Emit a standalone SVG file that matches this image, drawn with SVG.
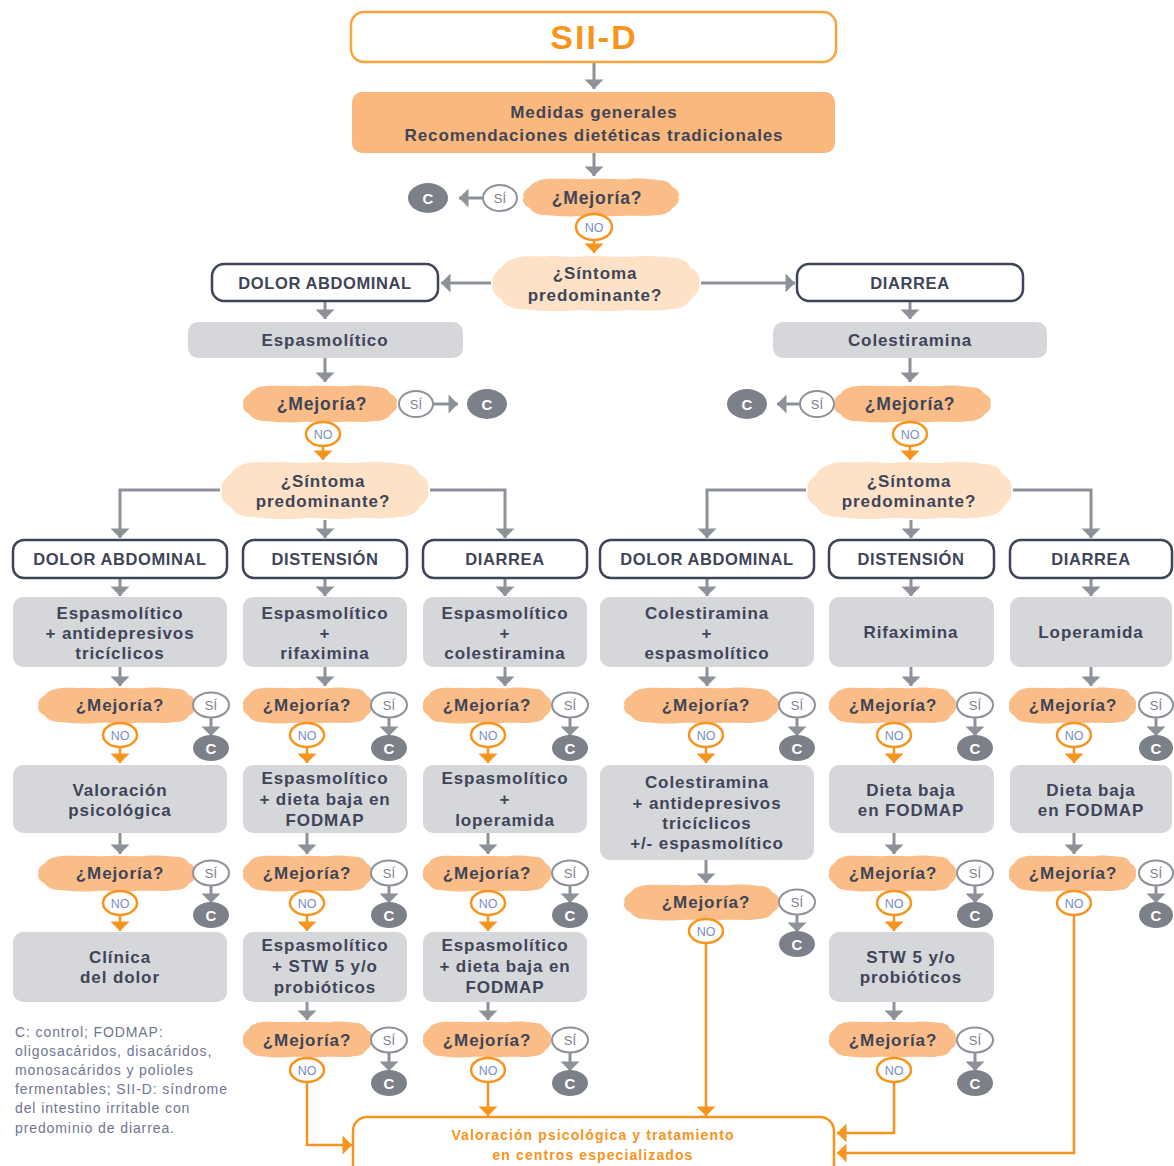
<svg xmlns="http://www.w3.org/2000/svg" xmlns:xlink="http://www.w3.org/1999/xlink" width="1174" height="1166" viewBox="0 0 1174 1166">
<style>
text{font-family:"Liberation Sans",Arial,sans-serif;text-anchor:middle}
.t{font-weight:bold;font-size:17px;letter-spacing:0.9px;fill:#3f4558}
.cat{fill:#fff;stroke:#3f4558;stroke-width:2.5}
.trt{fill:#d5d7db}
.cl1{fill:#fbbd87}
.cl2{fill:#fde2c7}
.si{fill:#fff;stroke:#8d9199;stroke-width:2}
.sit{font-size:13px;fill:#7d8190}
.no{fill:#fff;stroke:#f7941d;stroke-width:2.5}
.not{font-size:12.5px;fill:#7a8ec4}
.c{fill:#7c8089}
.ct{font-weight:bold;font-size:15px;fill:#fff}
.ga{stroke:#8d9199;stroke-width:3;fill:none;marker-end:url(#ag)}
.oa{stroke:#f7941d;stroke-width:2.5;fill:none;marker-end:url(#ao)}
.fn{font-size:14px;letter-spacing:0.9px;fill:#6f7690;text-anchor:start}
.ot{font-weight:bold;font-size:14px;letter-spacing:1.1px;fill:#f7941d}
</style>
<defs>
<marker id="ag" viewBox="0 0 10 20" markerUnits="userSpaceOnUse" markerWidth="10" markerHeight="19" refX="10" refY="10" orient="auto"><path d="M0,0 L10,10 L0,20 Z" fill="#8d9199"/></marker>
<marker id="ao" viewBox="0 0 10 20" markerUnits="userSpaceOnUse" markerWidth="10" markerHeight="19" refX="10" refY="10" orient="auto"><path d="M0,0 L10,10 L0,20 Z" fill="#f7941d"/></marker>
<symbol id="cloud" viewBox="0 0 100 40" preserveAspectRatio="none"><path d="M10,3 C14,0 20,1 26,1 C32,0 38,2 44,1 C52,0 60,2 68,1 C74,0 80,1 86,2 C92,2 94,6 95,9 C99,12 100,17 99,20 C100,24 98,28 95,31 C94,35 90,38 85,38 C78,40 70,38 62,39 C54,40 46,38 38,39 C30,40 22,39 15,38 C9,38 6,34 5,31 C1,28 0,23 1,20 C0,16 2,12 5,9 C6,6 8,4 10,3 Z"/></symbol>
</defs>
<rect width="1174" height="1166" fill="#fff"/>

<g id="connectors">
<path class="ga" d="M594,62 V89"/>
<path class="ga" d="M594,153 V176"/>
<path class="ga" d="M482,198 H459"/>
<path class="ga" d="M491,283 H441"/>
<path class="ga" d="M701,283 H795"/>
<path class="ga" d="M325,302 V319"/>
<path class="ga" d="M910,302 V319"/>
<path class="ga" d="M325,358 V382"/>
<path class="ga" d="M910,358 V382"/>
<path class="ga" d="M433,404 H458"/>
<path class="ga" d="M800,404 H777"/>
<path class="ga" d="M220,490 H120 V538"/>
<path class="ga" d="M325,520 V538"/>
<path class="ga" d="M430,490 H505 V538"/>
<path class="ga" d="M806,490 H707 V538"/>
<path class="ga" d="M911,520 V538"/>
<path class="ga" d="M1013,490 H1091 V538"/>
<path class="ga" d="M120,578 V596"/><path class="ga" d="M325,578 V596"/><path class="ga" d="M505,578 V596"/><path class="ga" d="M707,578 V596"/><path class="ga" d="M911,578 V596"/><path class="ga" d="M1091,578 V596"/>
<path class="ga" d="M120,667 V686"/><path class="ga" d="M325,667 V686"/><path class="ga" d="M505,667 V686"/><path class="ga" d="M707,667 V686"/><path class="ga" d="M911,667 V686"/><path class="ga" d="M1091,667 V686"/>
<path class="ga" d="M211,718 V736"/><path class="ga" d="M389,718 V736"/><path class="ga" d="M570,718 V736"/><path class="ga" d="M797,718 V736"/><path class="ga" d="M975,718 V736"/><path class="ga" d="M1156,718 V736"/>
<path class="ga" d="M120,833 V854"/><path class="ga" d="M307,833 V854"/><path class="ga" d="M488,833 V854"/><path class="ga" d="M706,860 V883"/><path class="ga" d="M894,833 V854"/><path class="ga" d="M1074,833 V854"/>
<path class="ga" d="M211,886 V903"/><path class="ga" d="M389,886 V903"/><path class="ga" d="M570,886 V903"/><path class="ga" d="M797,915 V932"/><path class="ga" d="M975,886 V903"/><path class="ga" d="M1156,886 V903"/>
<path class="ga" d="M307,1002 V1020"/><path class="ga" d="M488,1002 V1020"/><path class="ga" d="M894,1002 V1020"/>
<path class="ga" d="M389,1053 V1071"/><path class="ga" d="M570,1053 V1071"/><path class="ga" d="M975,1053 V1071"/>
<path class="oa" d="M594,240 V253"/>
<path class="oa" d="M323,446 V460"/>
<path class="oa" d="M910,446 V460"/>
<path class="oa" d="M120,747 V763"/><path class="oa" d="M307,747 V763"/><path class="oa" d="M488,747 V763"/><path class="oa" d="M706,747 V763"/><path class="oa" d="M894,747 V763"/><path class="oa" d="M1074,747 V763"/>
<path class="oa" d="M120,915 V931"/><path class="oa" d="M307,915 V931"/><path class="oa" d="M488,915 V931"/><path class="oa" d="M894,915 V931"/>
<path class="oa" d="M1074,914 V1153 H837"/>
<path class="oa" d="M706,943 V1116"/>
<path class="oa" d="M307,1082 V1145 H352"/>
<path class="oa" d="M488,1082 V1116"/>
<path class="oa" d="M894,1082 V1133 H837"/>
</g>

<g id="n-siid"><rect x="351" y="12" width="485" height="50" rx="13" fill="#fff" stroke="#f7a53c" stroke-width="2.5"/><text x="594" y="49" style="font-weight:bold;font-size:34px;letter-spacing:2px;fill:#f7941d">SII-D</text></g>
<g id="n-medidas"><rect x="352" y="92" width="483" height="61" rx="10" fill="#fbb87c"/><text class="t" x="594" y="118">Medidas generales</text><text class="t" x="594" y="141">Recomendaciones dietéticas tradicionales</text></g>
<g id="n-mej0"><use href="#cloud" x="522" y="178" width="158" height="39" class="cl1"/><text class="t" x="597" y="204" style="font-size:17.5px">¿Mejoría?</text></g>
<g id="n-si0"><ellipse class="si" cx="500" cy="198" rx="17" ry="13"/><text class="sit" x="500" y="203">SÍ</text></g>
<g id="n-c0"><ellipse class="c" cx="428" cy="198" rx="20" ry="15"/><text class="ct" x="428" y="203.5">C</text></g>
<g id="n-no0"><ellipse class="no" cx="594" cy="227" rx="18" ry="13"/><text class="not" x="594" y="231.5">NO</text></g>
<g id="n-sint0"><use href="#cloud" x="491" y="255" width="210" height="57" class="cl2"/><text class="t" x="595" y="279">¿Síntoma</text><text class="t" x="595" y="301">predominante?</text></g>
<g id="n-dolor0"><rect class="cat" x="212" y="264" width="226" height="37" rx="12"/><text class="t" x="325" y="289" style="font-size:16.5px;letter-spacing:0.6px">DOLOR ABDOMINAL</text></g>
<g id="n-diarrea0"><rect class="cat" x="797" y="264" width="226" height="37" rx="12"/><text class="t" x="910" y="289" style="font-size:16.5px;letter-spacing:0.6px">DIARREA</text></g>
<g id="n-espas0"><rect class="trt" x="188" y="322" width="275" height="36" rx="10"/><text class="t" x="325" y="346">Espasmolítico</text></g>
<g id="n-coles0"><rect class="trt" x="773" y="322" width="274" height="36" rx="10"/><text class="t" x="910" y="346">Colestiramina</text></g>
<g id="n-mejL"><use href="#cloud" x="242" y="385" width="156" height="38" class="cl1"/><text class="t" x="322" y="410" style="font-size:17.5px">¿Mejoría?</text></g>
<g id="n-siL"><ellipse class="si" cx="416" cy="404" rx="17" ry="13"/><text class="sit" x="416" y="409">SÍ</text></g>
<g id="n-cL"><ellipse class="c" cx="487" cy="404" rx="20" ry="15"/><text class="ct" x="487" y="409.5">C</text></g>
<g id="n-noL"><ellipse class="no" cx="323" cy="434" rx="17" ry="12"/><text class="not" x="323" y="438.5">NO</text></g>
<g id="n-mejR"><use href="#cloud" x="833" y="385" width="159" height="38" class="cl1"/><text class="t" x="910" y="410" style="font-size:17.5px">¿Mejoría?</text></g>
<g id="n-siR"><ellipse class="si" cx="817" cy="404" rx="17" ry="13"/><text class="sit" x="817" y="409">SÍ</text></g>
<g id="n-cR"><ellipse class="c" cx="747" cy="404" rx="20" ry="15"/><text class="ct" x="747" y="409.5">C</text></g>
<g id="n-noR"><ellipse class="no" cx="910" cy="434" rx="17" ry="12"/><text class="not" x="910" y="438.5">NO</text></g>
<g id="n-sintL"><use href="#cloud" x="220" y="461" width="210" height="59" class="cl2"/><text class="t" x="323" y="487">¿Síntoma</text><text class="t" x="323" y="507">predominante?</text></g>
<g id="n-sintR"><use href="#cloud" x="806" y="461" width="207" height="59" class="cl2"/><text class="t" x="909" y="487">¿Síntoma</text><text class="t" x="909" y="507">predominante?</text></g>

<g id="n-cat1"><rect class="cat" x="13" y="540" width="214" height="38" rx="11"/><text class="t" x="120" y="565" style="font-size:16.5px;letter-spacing:0.6px">DOLOR ABDOMINAL</text></g>
<g id="n-cat2"><rect class="cat" x="243" y="540" width="164" height="38" rx="11"/><text class="t" x="325" y="565" style="font-size:16.5px;letter-spacing:0.6px">DISTENSIÓN</text></g>
<g id="n-cat3"><rect class="cat" x="423" y="540" width="164" height="38" rx="11"/><text class="t" x="505" y="565" style="font-size:16.5px;letter-spacing:0.6px">DIARREA</text></g>
<g id="n-cat4"><rect class="cat" x="600" y="540" width="214" height="38" rx="11"/><text class="t" x="707" y="565" style="font-size:16.5px;letter-spacing:0.6px">DOLOR ABDOMINAL</text></g>
<g id="n-cat5"><rect class="cat" x="829" y="540" width="165" height="38" rx="11"/><text class="t" x="911" y="565" style="font-size:16.5px;letter-spacing:0.6px">DISTENSIÓN</text></g>
<g id="n-cat6"><rect class="cat" x="1010" y="540" width="162" height="38" rx="11"/><text class="t" x="1091" y="565" style="font-size:16.5px;letter-spacing:0.6px">DIARREA</text></g>

<g id="n-t1a"><rect class="trt" x="13" y="597" width="214" height="70" rx="10"/><text class="t" x="120" y="619">Espasmolítico</text><text class="t" x="120" y="639">+ antidepresivos</text><text class="t" x="120" y="659">tricíclicos</text></g>
<g id="n-t2a"><rect class="trt" x="243" y="597" width="164" height="70" rx="10"/><text class="t" x="325" y="619">Espasmolítico</text><text class="t" x="325" y="639">+</text><text class="t" x="325" y="659">rifaximina</text></g>
<g id="n-t3a"><rect class="trt" x="423" y="597" width="164" height="70" rx="10"/><text class="t" x="505" y="619">Espasmolítico</text><text class="t" x="505" y="639">+</text><text class="t" x="505" y="659">colestiramina</text></g>
<g id="n-t4a"><rect class="trt" x="600" y="597" width="214" height="70" rx="10"/><text class="t" x="707" y="619">Colestiramina</text><text class="t" x="707" y="639">+</text><text class="t" x="707" y="659">espasmolítico</text></g>
<g id="n-t5a"><rect class="trt" x="829" y="597" width="165" height="70" rx="10"/><text class="t" x="911" y="638">Rifaximina</text></g>
<g id="n-t6a"><rect class="trt" x="1010" y="597" width="162" height="70" rx="10"/><text class="t" x="1091" y="638">Loperamida</text></g>

<g id="n-m1a"><use href="#cloud" x="37" y="687" width="160" height="37" class="cl1"/><text class="t" x="120" y="711">¿Mejoría?</text></g>
<g id="n-m2a"><use href="#cloud" x="242" y="687" width="131" height="37" class="cl1"/><text class="t" x="307" y="711">¿Mejoría?</text></g>
<g id="n-m3a"><use href="#cloud" x="422" y="687" width="130" height="37" class="cl1"/><text class="t" x="487" y="711">¿Mejoría?</text></g>
<g id="n-m4a"><use href="#cloud" x="623" y="687" width="157" height="37" class="cl1"/><text class="t" x="706" y="711">¿Mejoría?</text></g>
<g id="n-m5a"><use href="#cloud" x="828" y="687" width="129" height="37" class="cl1"/><text class="t" x="893" y="711">¿Mejoría?</text></g>
<g id="n-m6a"><use href="#cloud" x="1008" y="687" width="129" height="37" class="cl1"/><text class="t" x="1073" y="711">¿Mejoría?</text></g>

<g id="n-s1a"><ellipse class="si" cx="211" cy="705" rx="18" ry="12.5"/><text class="sit" x="211" y="710">SÍ</text></g>
<g id="n-s2a"><ellipse class="si" cx="389" cy="705" rx="18" ry="12.5"/><text class="sit" x="389" y="710">SÍ</text></g>
<g id="n-s3a"><ellipse class="si" cx="570" cy="705" rx="18" ry="12.5"/><text class="sit" x="570" y="710">SÍ</text></g>
<g id="n-s4a"><ellipse class="si" cx="797" cy="705" rx="18" ry="12.5"/><text class="sit" x="797" y="710">SÍ</text></g>
<g id="n-s5a"><ellipse class="si" cx="975" cy="705" rx="18" ry="12.5"/><text class="sit" x="975" y="710">SÍ</text></g>
<g id="n-s6a"><ellipse class="si" cx="1156" cy="705" rx="17" ry="12.5"/><text class="sit" x="1156" y="710">SÍ</text></g>

<g id="n-c1a"><ellipse class="c" cx="211" cy="748" rx="18" ry="13"/><text class="ct" x="211" y="753.5">C</text></g>
<g id="n-c2a"><ellipse class="c" cx="389" cy="748" rx="18" ry="13"/><text class="ct" x="389" y="753.5">C</text></g>
<g id="n-c3a"><ellipse class="c" cx="570" cy="748" rx="18" ry="13"/><text class="ct" x="570" y="753.5">C</text></g>
<g id="n-c4a"><ellipse class="c" cx="797" cy="748" rx="18" ry="13"/><text class="ct" x="797" y="753.5">C</text></g>
<g id="n-c5a"><ellipse class="c" cx="975" cy="748" rx="18" ry="13"/><text class="ct" x="975" y="753.5">C</text></g>
<g id="n-c6a"><ellipse class="c" cx="1156" cy="748" rx="17" ry="13"/><text class="ct" x="1156" y="753.5">C</text></g>

<g id="n-n1a"><ellipse class="no" cx="120" cy="735" rx="17" ry="12"/><text class="not" x="120" y="739.5">NO</text></g>
<g id="n-n2a"><ellipse class="no" cx="307" cy="735" rx="17" ry="12"/><text class="not" x="307" y="739.5">NO</text></g>
<g id="n-n3a"><ellipse class="no" cx="488" cy="735" rx="17" ry="12"/><text class="not" x="488" y="739.5">NO</text></g>
<g id="n-n4a"><ellipse class="no" cx="706" cy="735" rx="17" ry="12"/><text class="not" x="706" y="739.5">NO</text></g>
<g id="n-n5a"><ellipse class="no" cx="894" cy="735" rx="17" ry="12"/><text class="not" x="894" y="739.5">NO</text></g>
<g id="n-n6a"><ellipse class="no" cx="1074" cy="735" rx="17" ry="12"/><text class="not" x="1074" y="739.5">NO</text></g>

<g id="n-t1b"><rect class="trt" x="13" y="765" width="214" height="68" rx="10"/><text class="t" x="120" y="796">Valoración</text><text class="t" x="120" y="816">psicológica</text></g>
<g id="n-t2b"><rect class="trt" x="243" y="765" width="164" height="68" rx="10"/><text class="t" x="325" y="784">Espasmolítico</text><text class="t" x="325" y="805">+ dieta baja en</text><text class="t" x="325" y="826">FODMAP</text></g>
<g id="n-t3b"><rect class="trt" x="423" y="765" width="164" height="68" rx="10"/><text class="t" x="505" y="784">Espasmolítico</text><text class="t" x="505" y="805">+</text><text class="t" x="505" y="826">loperamida</text></g>
<g id="n-t4b"><rect class="trt" x="600" y="765" width="214" height="95" rx="10"/><text class="t" x="707" y="788">Colestiramina</text><text class="t" x="707" y="809">+ antidepresivos</text><text class="t" x="707" y="829">tricíclicos</text><text class="t" x="707" y="849">+/- espasmolítico</text></g>
<g id="n-t5b"><rect class="trt" x="829" y="765" width="165" height="68" rx="10"/><text class="t" x="911" y="796">Dieta baja</text><text class="t" x="911" y="816">en FODMAP</text></g>
<g id="n-t6b"><rect class="trt" x="1010" y="765" width="162" height="68" rx="10"/><text class="t" x="1091" y="796">Dieta baja</text><text class="t" x="1091" y="816">en FODMAP</text></g>

<g id="n-m1b"><use href="#cloud" x="37" y="855" width="160" height="37" class="cl1"/><text class="t" x="120" y="879">¿Mejoría?</text></g>
<g id="n-m2b"><use href="#cloud" x="242" y="855" width="131" height="37" class="cl1"/><text class="t" x="307" y="879">¿Mejoría?</text></g>
<g id="n-m3b"><use href="#cloud" x="422" y="855" width="130" height="37" class="cl1"/><text class="t" x="487" y="879">¿Mejoría?</text></g>
<g id="n-m4b"><use href="#cloud" x="623" y="884" width="157" height="37" class="cl1"/><text class="t" x="706" y="908">¿Mejoría?</text></g>
<g id="n-m5b"><use href="#cloud" x="828" y="855" width="129" height="37" class="cl1"/><text class="t" x="893" y="879">¿Mejoría?</text></g>
<g id="n-m6b"><use href="#cloud" x="1008" y="855" width="129" height="37" class="cl1"/><text class="t" x="1073" y="879">¿Mejoría?</text></g>

<g id="n-s1b"><ellipse class="si" cx="211" cy="873" rx="18" ry="12.5"/><text class="sit" x="211" y="878">SÍ</text></g>
<g id="n-s2b"><ellipse class="si" cx="389" cy="873" rx="18" ry="12.5"/><text class="sit" x="389" y="878">SÍ</text></g>
<g id="n-s3b"><ellipse class="si" cx="570" cy="873" rx="18" ry="12.5"/><text class="sit" x="570" y="878">SÍ</text></g>
<g id="n-s4b"><ellipse class="si" cx="797" cy="902" rx="18" ry="12.5"/><text class="sit" x="797" y="907">SÍ</text></g>
<g id="n-s5b"><ellipse class="si" cx="975" cy="873" rx="18" ry="12.5"/><text class="sit" x="975" y="878">SÍ</text></g>
<g id="n-s6b"><ellipse class="si" cx="1156" cy="873" rx="17" ry="12.5"/><text class="sit" x="1156" y="878">SÍ</text></g>

<g id="n-c1b"><ellipse class="c" cx="211" cy="915" rx="18" ry="13"/><text class="ct" x="211" y="920.5">C</text></g>
<g id="n-c2b"><ellipse class="c" cx="389" cy="915" rx="18" ry="13"/><text class="ct" x="389" y="920.5">C</text></g>
<g id="n-c3b"><ellipse class="c" cx="570" cy="915" rx="18" ry="13"/><text class="ct" x="570" y="920.5">C</text></g>
<g id="n-c4b"><ellipse class="c" cx="797" cy="944" rx="18" ry="13"/><text class="ct" x="797" y="949.5">C</text></g>
<g id="n-c5b"><ellipse class="c" cx="975" cy="915" rx="18" ry="13"/><text class="ct" x="975" y="920.5">C</text></g>
<g id="n-c6b"><ellipse class="c" cx="1156" cy="915" rx="17" ry="13"/><text class="ct" x="1156" y="920.5">C</text></g>

<g id="n-n1b"><ellipse class="no" cx="120" cy="903" rx="17" ry="12"/><text class="not" x="120" y="907.5">NO</text></g>
<g id="n-n2b"><ellipse class="no" cx="307" cy="903" rx="17" ry="12"/><text class="not" x="307" y="907.5">NO</text></g>
<g id="n-n3b"><ellipse class="no" cx="488" cy="903" rx="17" ry="12"/><text class="not" x="488" y="907.5">NO</text></g>
<g id="n-n4b"><ellipse class="no" cx="706" cy="931" rx="17" ry="12"/><text class="not" x="706" y="935.5">NO</text></g>
<g id="n-n5b"><ellipse class="no" cx="894" cy="903" rx="17" ry="12"/><text class="not" x="894" y="907.5">NO</text></g>
<g id="n-n6b"><ellipse class="no" cx="1074" cy="903" rx="17" ry="12"/><text class="not" x="1074" y="907.5">NO</text></g>

<g id="n-t1c"><rect class="trt" x="13" y="932" width="214" height="70" rx="10"/><text class="t" x="120" y="963">Clínica</text><text class="t" x="120" y="983">del dolor</text></g>
<g id="n-t2c"><rect class="trt" x="243" y="932" width="164" height="70" rx="10"/><text class="t" x="325" y="951">Espasmolítico</text><text class="t" x="325" y="972">+ STW 5 y/o</text><text class="t" x="325" y="993">probióticos</text></g>
<g id="n-t3c"><rect class="trt" x="423" y="932" width="164" height="70" rx="10"/><text class="t" x="505" y="951">Espasmolítico</text><text class="t" x="505" y="972">+ dieta baja en</text><text class="t" x="505" y="993">FODMAP</text></g>
<g id="n-t5c"><rect class="trt" x="829" y="932" width="165" height="70" rx="10"/><text class="t" x="911" y="963">STW 5 y/o</text><text class="t" x="911" y="983">probióticos</text></g>

<g id="n-m2c"><use href="#cloud" x="242" y="1021" width="131" height="37" class="cl1"/><text class="t" x="307" y="1046">¿Mejoría?</text></g>
<g id="n-m3c"><use href="#cloud" x="422" y="1021" width="130" height="37" class="cl1"/><text class="t" x="487" y="1046">¿Mejoría?</text></g>
<g id="n-m5c"><use href="#cloud" x="828" y="1021" width="129" height="37" class="cl1"/><text class="t" x="893" y="1046">¿Mejoría?</text></g>

<g id="n-s2c"><ellipse class="si" cx="389" cy="1040" rx="18" ry="12.5"/><text class="sit" x="389" y="1045">SÍ</text></g>
<g id="n-s3c"><ellipse class="si" cx="570" cy="1040" rx="18" ry="12.5"/><text class="sit" x="570" y="1045">SÍ</text></g>
<g id="n-s5c"><ellipse class="si" cx="975" cy="1040" rx="18" ry="12.5"/><text class="sit" x="975" y="1045">SÍ</text></g>

<g id="n-c2c"><ellipse class="c" cx="389" cy="1083" rx="18" ry="13"/><text class="ct" x="389" y="1088.5">C</text></g>
<g id="n-c3c"><ellipse class="c" cx="570" cy="1083" rx="18" ry="13"/><text class="ct" x="570" y="1088.5">C</text></g>
<g id="n-c5c"><ellipse class="c" cx="975" cy="1083" rx="18" ry="13"/><text class="ct" x="975" y="1088.5">C</text></g>

<g id="n-n2c"><ellipse class="no" cx="307" cy="1070" rx="17" ry="12"/><text class="not" x="307" y="1074.5">NO</text></g>
<g id="n-n3c"><ellipse class="no" cx="488" cy="1070" rx="17" ry="12"/><text class="not" x="488" y="1074.5">NO</text></g>
<g id="n-n5c"><ellipse class="no" cx="894" cy="1070" rx="17" ry="12"/><text class="not" x="894" y="1074.5">NO</text></g>

<g id="n-final"><rect x="353" y="1117" width="481" height="64" rx="14" fill="#fff" stroke="#f7941d" stroke-width="2.5"/><text class="ot" x="593" y="1140">Valoración psicológica y tratamiento</text><text class="ot" x="593" y="1160">en centros especializados</text></g>

<g id="footnote">
<text class="fn" x="15" y="1037">C: control; FODMAP:</text>
<text class="fn" x="15" y="1056">oligosacáridos, disacáridos,</text>
<text class="fn" x="15" y="1075">monosacáridos y polioles</text>
<text class="fn" x="15" y="1094">fermentables; SII-D: síndrome</text>
<text class="fn" x="15" y="1113">del intestino irritable con</text>
<text class="fn" x="15" y="1133">predominio de diarrea.</text>
</g>
</svg>
